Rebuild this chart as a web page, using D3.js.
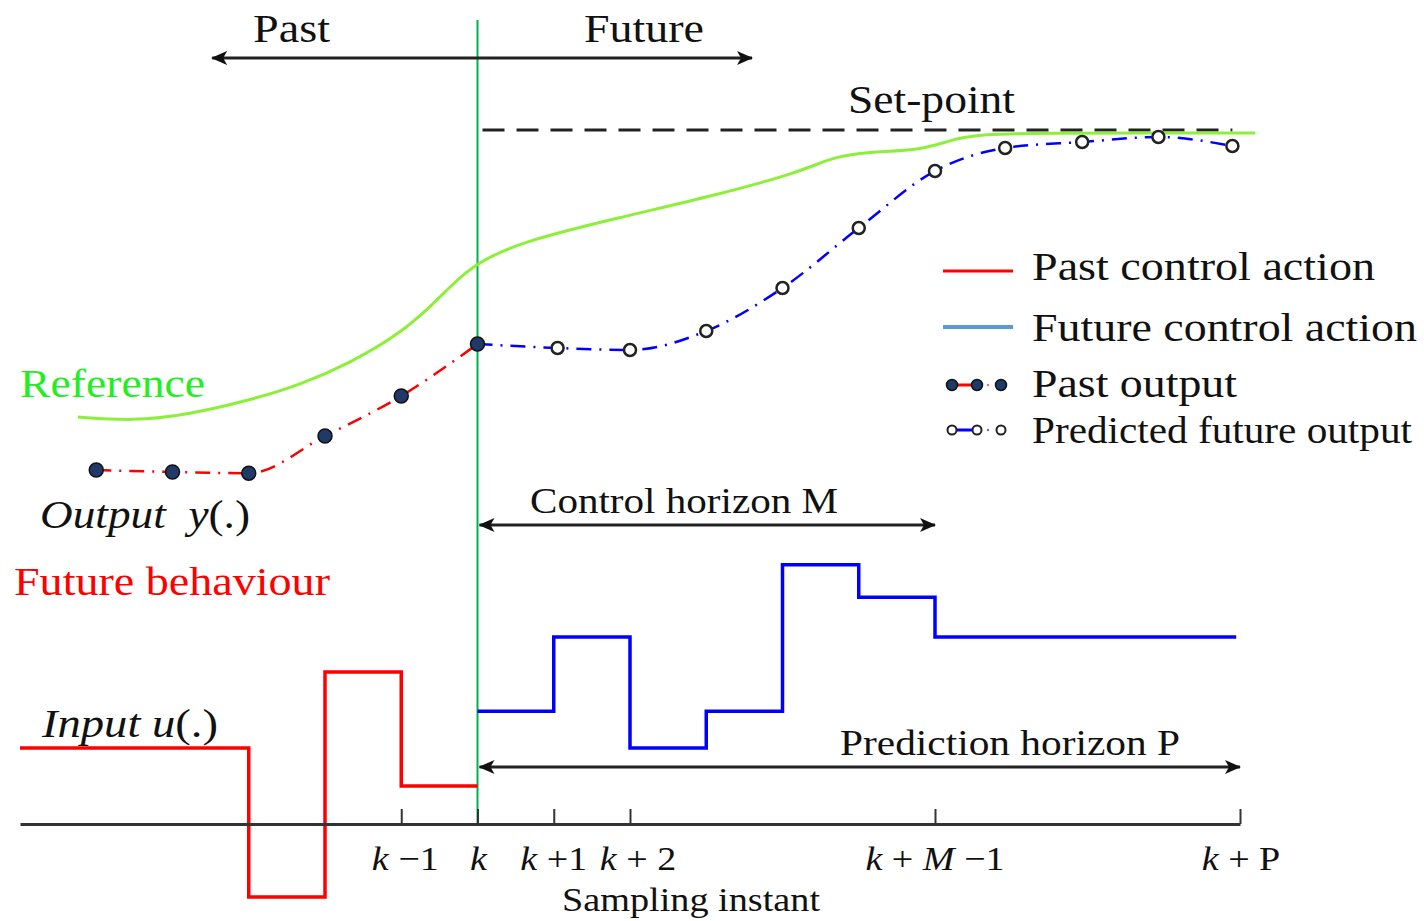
<!DOCTYPE html>
<html><head><meta charset="utf-8">
<script src="https://cdn.jsdelivr.net/npm/d3@7"></script>
<style>html,body{margin:0;padding:0;background:#fff;} svg{display:block;}</style>
</head><body><svg id="chart" width="1424" height="921"></svg>
<script>
// ---------------- data ----------------
const sampleDomain = [-6, 10];
const tickValues = [-1, 0, 1, 2, 6, 10];
const tickLabels = ["k −1", "k", "k +1", "k + 2", "k + M −1", "k + P"];
const setPoint = 10;

const refIdx = [-5.24, -4.52, -3.81, -2.98, -2.33, -1.67, -1.02, -0.58, -0.3, 0, 0.52, 1.83, 3.14, 4.23, 4.66, 5.11, 5.84, 6.2, 6.59, 7.51, 8.82, 10.2];
const refVal = [2.825, 2.725, 2.875, 3.25, 3.625, 4.175, 4.9, 5.65, 6.2, 6.675, 7.175, 7.8, 8.375, 8.95, 9.325, 9.45, 9.5, 9.75, 9.9, 9.925, 9.925, 9.925];

const pastOutIdx = [-5, -4, -3, -2, -1, 0];
const pastOut = [1.5, 1.45, 1.42, 2.35, 3.35, 4.65];

const predIdx = [1.05, 2, 3, 4, 5, 6, 6.92, 7.93, 8.93, 9.9];
const predOut = [4.55, 4.5, 4.975, 6.05, 7.55, 8.975, 9.55, 9.7, 9.825, 9.6];

const pastUIdx = [-6, -3, -2, -1, 0];
const pastU = [2, -1.92, 4, 1, 1];
const futUIdx = [0, 1, 2, 3, 4, 5, 6, 9.95];
const futU = [2.97, 4.92, 2, 2.97, 6.82, 5.97, 4.92, 4.92];

const legendLabels = ["Past control action", "Future control action", "Past output", "Predicted future output"];

// ---------------- setup ----------------
const FONT = "'Liberation Serif','Times New Roman',serif";
const svg = d3.select("#chart");
const x = d3.scaleLinear().domain(sampleDomain).range([20, 1240]);
const yOut = d3.scaleLinear().domain([0, 10]).range([530, 130]);
const yU = d3.scaleLinear().domain([0, 1]).range([824, 786]);

const defs = svg.append("defs");
defs.append("marker").attr("id", "arr").attr("viewBox", "0 -7 16 14")
  .attr("refX", 15).attr("refY", 0).attr("markerUnits", "userSpaceOnUse")
  .attr("markerWidth", 16).attr("markerHeight", 14).attr("orient", "auto-start-reverse")
  .append("path").attr("d", "M16,0L0,-7L4,0L0,7Z").attr("fill", "#111");

function addText(parts, x0, y0, size, len, fill, anchor) {
  const t = svg.append("text").attr("x", x0).attr("y", y0)
    .attr("font-family", FONT).attr("font-size", size).attr("fill", fill || "#111")
    .attr("text-anchor", anchor || "start").style("white-space", "pre");
  if (len) t.attr("textLength", len).attr("lengthAdjust", "spacingAndGlyphs");
  parts.forEach(p => t.append("tspan").text(p[0]).attr("font-style", p[1] ? "italic" : "normal"));
  return t;
}

// green "now" line
svg.append("line").attr("x1", x(0)).attr("x2", x(0)).attr("y1", 20).attr("y2", 824)
  .attr("stroke", "#00B050").attr("stroke-width", 2);

// set-point dashed line
svg.append("line").attr("x1", x(0) + 5).attr("x2", x(9.9))
  .attr("y1", yOut(setPoint)).attr("y2", yOut(setPoint))
  .attr("stroke", "#222").attr("stroke-width", 3).attr("stroke-dasharray", "22,12");

// reference curve
const refData = refIdx.map((d, i) => [d, refVal[i]]);
svg.append("path").datum(refData)
  .attr("d", d3.line().x(d => x(d[0])).y(d => yOut(d[1])).curve(d3.curveBasis))
  .attr("fill", "none").attr("stroke", "#8CF03A").attr("stroke-width", 3);

// output lines
const pastData = pastOutIdx.map((d, i) => [d, pastOut[i]]);
const predData = [pastData[pastData.length - 1]].concat(predIdx.map((d, i) => [d, predOut[i]]));
const outLine = d3.line().x(d => x(d[0])).y(d => yOut(d[1])).curve(d3.curveMonotoneX);
svg.append("path").datum(pastData).attr("d", outLine).attr("fill", "none")
  .attr("stroke", "#FF0000").attr("stroke-width", 2.5).attr("stroke-dasharray", "15,8,2,8");
svg.append("path").datum(predData).attr("d", outLine).attr("fill", "none")
  .attr("stroke", "#0000FF").attr("stroke-width", 2.5).attr("stroke-dasharray", "15,8,2,8");

svg.selectAll("circle.pred").data(predIdx.map((d, i) => [d, predOut[i]])).enter()
  .append("circle").attr("class", "pred").attr("cx", d => x(d[0])).attr("cy", d => yOut(d[1]))
  .attr("r", 6).attr("fill", "#fff").attr("stroke", "#222").attr("stroke-width", 2.5);
svg.selectAll("circle.past").data(pastData).enter()
  .append("circle").attr("class", "past").attr("cx", d => x(d[0])).attr("cy", d => yOut(d[1]))
  .attr("r", 7).attr("fill", "#1F3A68").attr("stroke", "#111").attr("stroke-width", 1.5);

// input steps
const stepLine = d3.line().x(d => x(d[0])).y(d => yU(d[1])).curve(d3.curveStepAfter);
svg.append("path").datum(pastUIdx.map((d, i) => [d, pastU[i]])).attr("d", stepLine)
  .attr("fill", "none").attr("stroke", "#FF0000").attr("stroke-width", 3.5);
svg.append("path").datum(futUIdx.map((d, i) => [d, futU[i]])).attr("d", stepLine)
  .attr("fill", "none").attr("stroke", "#0000FF").attr("stroke-width", 3.5);

// axis
const ax = svg.append("g").attr("transform", "translate(0,824)")
  .call(d3.axisTop(x).tickValues(tickValues).tickSize(15).tickSizeOuter(0).tickFormat(""));
ax.select(".domain").attr("stroke", "#333").attr("stroke-width", 3);
ax.selectAll(".tick line").attr("stroke", "#333").attr("stroke-width", 2);

const tickLabelDx = [4, 1, 0, 8, 0, 1];
tickValues.forEach((v, i) => {
  const parts = tickLabels[i].split(/([kM])/).filter(s => s.length).map(s => [s, s === "k" || s === "M"]);
  addText(parts, 0, 0, 34, null, "#111", "middle").attr("x", null).attr("y", null)
    .attr("transform", `translate(${x(v) + tickLabelDx[i]},870) scale(1.12,1)`);
});
addText([["Sampling instant", false]], 562, 911, 33, 258);

// arrows
function arrow(x1, x2, y) {
  svg.append("line").attr("x1", x1).attr("x2", x2).attr("y1", y).attr("y2", y)
    .attr("stroke", "#222").attr("stroke-width", 3)
    .attr("marker-start", "url(#arr)").attr("marker-end", "url(#arr)");
}
arrow(x(-3.48), x(3.6), 58);
arrow(x(0) + 2, x(6), 525);
arrow(x(0) + 2, x(10), 767);

// texts
addText([["Past", false]], 253, 42, 39, 77);
addText([["Future", false]], 584, 42, 39, 120);
addText([["Set-point", false]], 848, 113, 39, 167);
addText([["Reference", false]], 20, 397, 39, 185, "#22EE22");
addText([["Output", true], ["  y", true], ["(.)", false]], 40, 528, 39, 210);
addText([["Future behaviour", false]], 14, 595, 39, 316, "#FF0000");
addText([["Input ", true], ["u", true], ["(.)", false]], 42, 737, 39, 176);
addText([["Control horizon M", false]], 530, 513, 35, 308);
addText([["Prediction horizon P", false]], 840, 755, 35, 340);

// legend
const lg = svg.append("g");
lg.append("line").attr("x1", 943).attr("x2", 1013).attr("y1", 271).attr("y2", 271)
  .attr("stroke", "#FF0000").attr("stroke-width", 3);
lg.append("line").attr("x1", 943).attr("x2", 1013).attr("y1", 327).attr("y2", 327)
  .attr("stroke", "#5B9BD5").attr("stroke-width", 4);
lg.append("line").attr("x1", 952).attr("x2", 977).attr("y1", 385).attr("y2", 385)
  .attr("stroke", "#FF0000").attr("stroke-width", 3);
lg.append("circle").attr("cx", 988).attr("cy", 385).attr("r", 1.2).attr("fill", "#FF6666");
[952, 977, 1001].forEach(cx => lg.append("circle").attr("cx", cx).attr("cy", 385).attr("r", 5.5)
  .attr("fill", "#1F3A68").attr("stroke", "#111").attr("stroke-width", 1.5));
lg.append("line").attr("x1", 952).attr("x2", 977).attr("y1", 430).attr("y2", 430)
  .attr("stroke", "#0000FF").attr("stroke-width", 3);
lg.append("circle").attr("cx", 988).attr("cy", 430).attr("r", 1.2).attr("fill", "#6666FF");
[952, 977, 1001].forEach(cx => lg.append("circle").attr("cx", cx).attr("cy", 430).attr("r", 4.5)
  .attr("fill", "#fff").attr("stroke", "#222").attr("stroke-width", 2));
addText([[legendLabels[0], false]], 1032, 280, 39, 343);
addText([[legendLabels[1], false]], 1032, 341, 39, 385);
addText([[legendLabels[2], false]], 1032, 397, 39, 205);
addText([[legendLabels[3], false]], 1032, 443, 37, 380);
</script></body></html>
